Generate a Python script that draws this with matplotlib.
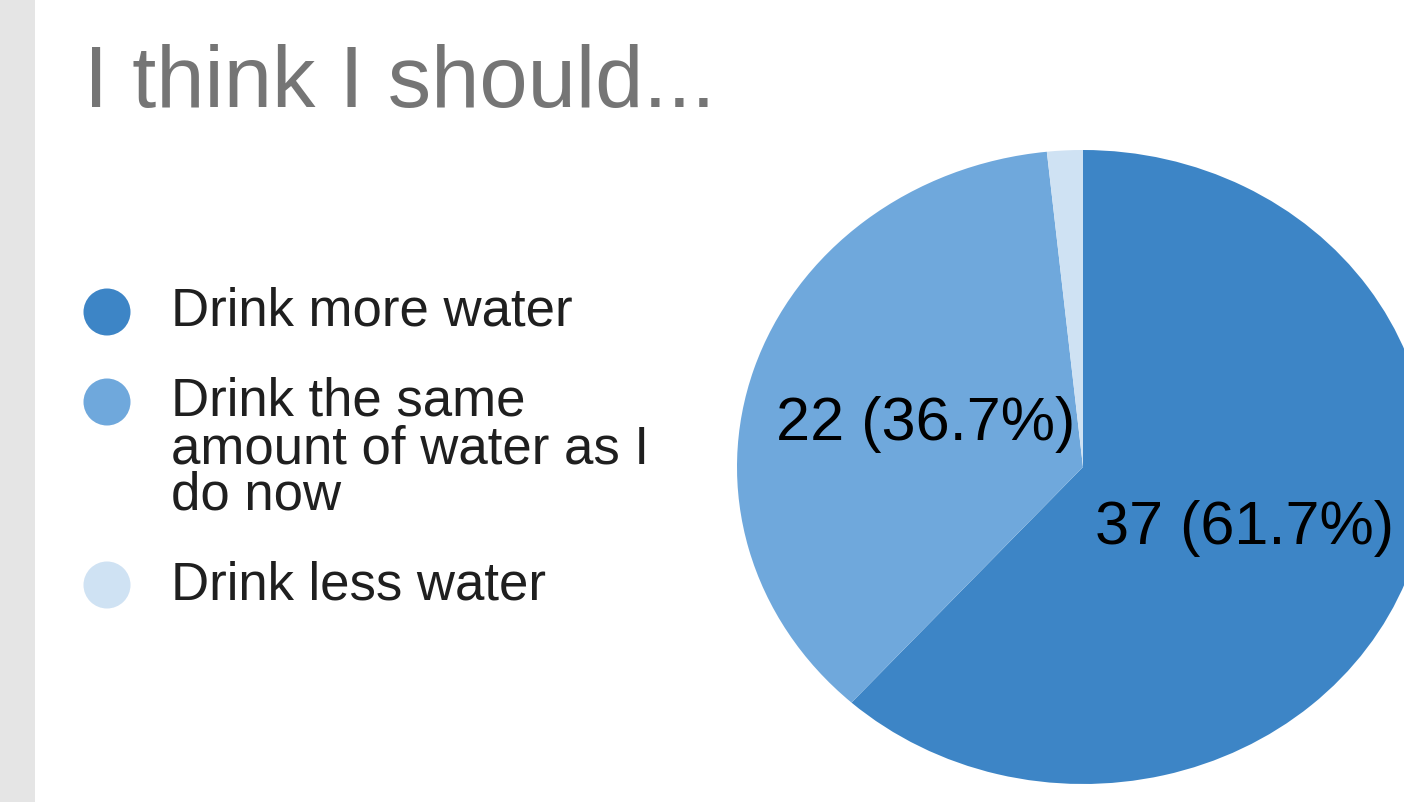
import matplotlib.pyplot as plt
from matplotlib.patches import Circle, Rectangle

# Datos de la encuesta
title = 'I think I should...'
categories = ['Drink more water',
              'Drink the same\namount of water as I\ndo now',
              'Drink less water']
counts = [37, 22, 1]
colors = ['#3d85c6', '#6fa8dc', '#cfe2f3']

plt.rcParams['font.family'] = ['Liberation Sans', 'DejaVu Sans']

W, H = 1404, 802
fig = plt.figure(figsize=(W / 100, H / 100), dpi=100)
fig.patch.set_facecolor('white')

# Capa en pixeles para titulo, leyenda y franja gris
over = fig.add_axes([0, 0, 1, 1])
over.set_xlim(0, W)
over.set_ylim(H, 0)
over.axis('off')
over.add_patch(Rectangle((0, 0), 35, H, color='#e5e5e5', lw=0))
over.text(84, 107, title, fontsize=62.5, color='#757575', va='baseline', ha='left')

# Leyenda manual (el circulo se alinea con la primera linea)
row_y = [312, 402, 585]
for label, col, y in zip(categories, colors, row_y):
    over.add_patch(Circle((107, y), 23.5, color=col, lw=0))
    for i, line in enumerate(label.split('\n')):
        over.text(171, y + i * 47, line, fontsize=38, color='#1f1f1f',
                  va='center', ha='left')

# Pastel (ligeramente eliptico como en la imagen)
cx, cy, rx, ry = 1083, 467, 346, 317
ax = fig.add_axes([(cx - rx) / W, (H - cy - ry) / H, 2 * rx / W, 2 * ry / H])
total = sum(counts)


def fmt(pct):
    n = round(pct * total / 100)
    if n < 2:
        return ''
    return f'{n} ({pct:.1f}%)'


wedges, texts, autotexts = ax.pie(counts, colors=colors, startangle=90,
                                  counterclock=False, autopct=fmt,
                                  pctdistance=0.49,
                                  wedgeprops=dict(linewidth=0),
                                  textprops=dict(fontsize=44, color='black'))
# bajar un poco las etiquetas
for t in autotexts:
    x, y = t.get_position()
    t.set_position((x + 0.01, y - 0.017))
ax.set_aspect('auto')
ax.set_xlim(-1, 1)
ax.set_ylim(-1, 1)
ax.axis('off')

fig.savefig('out.png', dpi=100)
